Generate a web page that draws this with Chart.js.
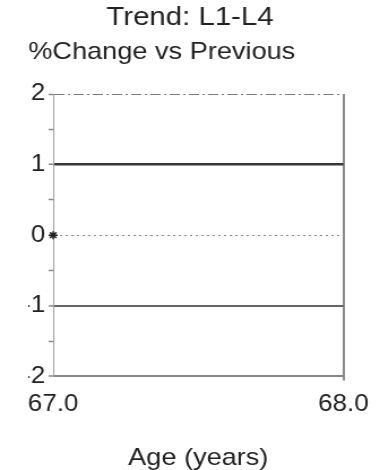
<!DOCTYPE html>
<html>
<head>
<meta charset="utf-8">
<script src="https://cdn.jsdelivr.net/npm/chart.js@4"></script>
<style>
  html, body { margin: 0; padding: 0; background: #fff; overflow: hidden; }
  #wrap { width: 336px; height: 470px; transform: scaleX(1.131); transform-origin: 0 0; }
</style>
</head>
<body>
<div id="wrap"><canvas id="c" width="336" height="470"></canvas></div>
<script>
// Trend series: age (years) against % change vs the previous visit
const ages = [67.0];
const pctChange = [0];
const xTicks = [67.0, 68.0];
const yTicks = [-2, -1, 0, 1, 2];

const FONT = 'Liberation Sans, Arial, sans-serif';
const TEXT = '#222';

// per-value styling of the horizontal reference lines
function yLineColor(v) {
  if (v === 2) return '#7a7a7a';
  if (v === 1) return '#383838';
  if (v === 0) return '#8a8a8a';
  if (v === -1) return '#666';
  if (v === -2) return '#888';
  return 'rgba(0,0,0,0)';
}
function yLineWidth(v) {
  if (v === 1) return 2.5;
  if (v === -1 || v === -2) return 2;
  return 1;
}
function yLineDash(v) {
  if (v === 2) return [9, 3, 2, 3];
  if (v === 0) return [2, 3];
  return [];
}

new Chart(document.getElementById('c'), {
  type: 'line',
  data: {
    datasets: [{
      data: ages.map((a, i) => ({ x: a, y: pctChange[i] })),
      borderColor: '#222',
      backgroundColor: '#222',
      pointStyle: 'star',
      pointRadius: 4,
      pointBorderWidth: 1.5,
      showLine: false,
      clip: false
    }]
  },
  options: {
    responsive: false,
    animation: false,
    devicePixelRatio: 1,
    layout: { padding: { left: 25, right: 25, top: 0, bottom: 0 } },
    plugins: {
      legend: { display: false },
      tooltip: { enabled: false },
      title: {
        display: true,
        text: 'Trend: L1-L4',
        color: TEXT,
        font: { family: FONT, size: 26, weight: 'normal' },
        padding: { top: 2, bottom: 0 }
      },
      subtitle: {
        display: true,
        text: '%Change vs Previous',
        align: 'start',
        color: TEXT,
        font: { family: FONT, size: 24, weight: 'normal' },
        padding: { top: 5, bottom: 27 }
      }
    },
    scales: {
      x: {
        type: 'linear',
        min: xTicks[0],
        max: xTicks[xTicks.length - 1],
        afterBuildTicks: (s) => { s.ticks = xTicks.map(v => ({ value: v })); },
        ticks: {
          color: TEXT,
          font: { family: FONT, size: 23 },
          padding: 10,
          maxRotation: 0,
          callback: (v) => Number(v).toFixed(1)
        },
        grid: {
          color: (ctx) => (ctx.tick && ctx.tick.value === xTicks[xTicks.length - 1]) ? '#8a8a8a' : 'rgba(0,0,0,0)',
          lineWidth: 2,
          tickLength: 4,
          tickColor: (ctx) => (ctx.tick && ctx.tick.value === xTicks[xTicks.length - 1]) ? '#8a8a8a' : 'rgba(0,0,0,0)'
        },
        border: { display: false },
        title: {
          display: true,
          text: 'Age (years)',
          color: TEXT,
          font: { family: FONT, size: 24, lineHeight: 1 },
          padding: { top: 18, bottom: 0 }
        }
      },
      y: {
        min: -2,
        max: 2,
        afterFit: (s) => { s.width = 22; },
        ticks: {
          stepSize: 0.5,
          color: TEXT,
          font: { family: FONT, size: 23 },
          padding: 3,
          callback: (v) => yTicks.includes(v) ? String(v) : ''
        },
        grid: {
          color: (ctx) => yLineColor(ctx.tick ? ctx.tick.value : null),
          lineWidth: (ctx) => yLineWidth(ctx.tick ? ctx.tick.value : null),
          tickLength: 4,
          tickColor: '#8a8a8a',
          tickWidth: 1.5
        },
        border: {
          display: true,
          color: '#a0a0a0',
          width: 1,
          dash: (ctx) => ctx.tick ? yLineDash(ctx.tick.value) : [2, 3]
        }
      }
    }
  }
});
</script>
</body>
</html>
